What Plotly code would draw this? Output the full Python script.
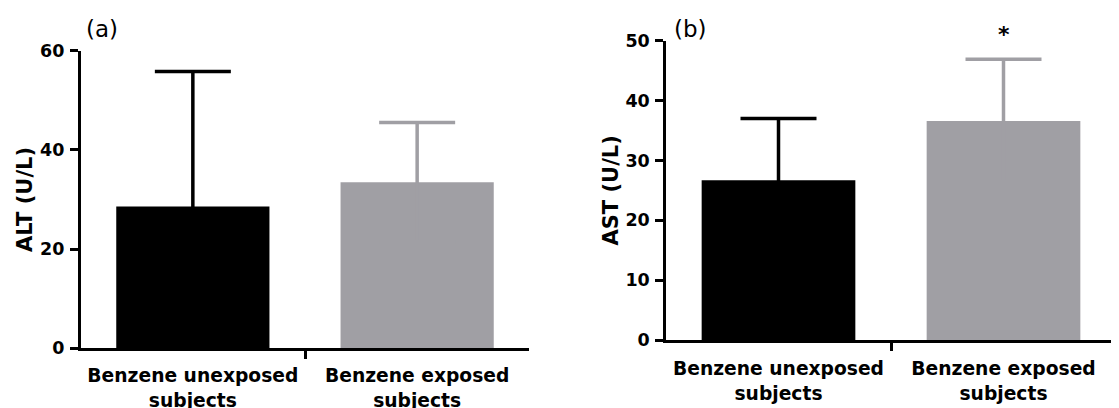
import plotly.graph_objects as go

# ---- data ----
categories = ["Benzene unexposed<br>subjects", "Benzene exposed<br>subjects"]
alt_mean = [28.6, 33.5]
alt_sd = [27.2, 12.0]
ast_mean = [26.7, 36.6]
ast_sd = [10.3, 10.3]
alt_ticks = [0, 20, 40, 60]
ast_ticks = [0, 10, 20, 30, 40, 50]
panel_labels = ["(a)", "(b)"]
y_titles = ["ALT (U/L)", "AST (U/L)"]
signif = ["", "*"]  # marker above exposed group in panel (b)

bar_colors = ["#000000", "#A09FA4"]
FONT = "DejaVu Sans, Verdana, sans-serif"

# page is drawn with the browser's default 8px body margin
OFF = 8
W, H = 1119 - OFF, 408 - OFF
def xp(px):
    return (px - OFF) / W
def yp(py):
    return 1 - (py - OFF) / H

fig = go.Figure()
xpos = list(range(len(categories)))
mid_ticks = [(a + b) / 2 for a, b in zip(xpos[:-1], xpos[1:])]

panels = [(alt_mean, alt_sd), (ast_mean, ast_sd)]
for p, (means, sds) in enumerate(panels):
    xa = "x" if p == 0 else "x2"
    ya = "y" if p == 0 else "y2"
    for i in xpos:
        fig.add_trace(go.Bar(
            x=[xpos[i]], y=[means[i]], width=0.683,
            marker=dict(color=bar_colors[i], line_width=0),
            error_y=dict(type="data", symmetric=True, array=[sds[i]],
                         color=bar_colors[i], thickness=3.5, width=38),
            xaxis=xa, yaxis=ya, showlegend=False, hoverinfo="skip"))

def xaxis_cfg(domain, anchor, standoff):
    return dict(domain=domain, anchor=anchor, range=[-0.5, 1.5], tickmode="array",
                tickvals=xpos, ticktext=categories, ticks="", showline=True,
                linecolor="black", linewidth=2.5, showgrid=False, zeroline=False,
                tickfont=dict(family=FONT, size=18.7, color="black", weight="bold"),
                ticklabelstandoff=standoff,
                minor=dict(tickvals=mid_ticks, ticks="outside", ticklen=8,
                           tickwidth=2.5, tickcolor="black", showgrid=False))

def yaxis_cfg(domain, anchor, rng, tv, title):
    return dict(domain=domain, anchor=anchor, range=rng, tickmode="array", tickvals=tv,
                ticks="outside", ticklen=8, tickwidth=2.5, tickcolor="black",
                showline=True, linecolor="black", linewidth=2.5, showgrid=False,
                zeroline=False, ticklabelstandoff=2,
                tickfont=dict(family=FONT, size=17.5, color="black", weight="bold"),
                title=dict(text=title, standoff=2,
                           font=dict(family=FONT, size=21, color="black", weight="bold")))

fig.update_layout(
    width=W, height=H, margin=dict(l=0, r=0, t=0, b=0, autoexpand=False),
    paper_bgcolor="white", plot_bgcolor="white", barmode="overlay",
    font=dict(family=FONT, color="black"),
    xaxis=xaxis_cfg([xp(80.7), xp(529.3)], "y", 9),
    yaxis=yaxis_cfg([yp(348.3), yp(50.7)], "x", [0, 60], alt_ticks, y_titles[0]),
    xaxis2=xaxis_cfg([xp(666), xp(1116)], "y2", 10),
    yaxis2=yaxis_cfg([yp(340), yp(40.7)], "x2", [0, 50], ast_ticks, y_titles[1]),
)

# panel labels
for p, (xl, yl) in enumerate([(84, 29), (672, 29)]):
    fig.add_annotation(text=panel_labels[p], xref="paper", yref="paper",
                       x=xp(xl), y=yp(yl), xanchor="left", yanchor="middle",
                       showarrow=False, font=dict(family=FONT, size=23, color="black"))

# significance marker
for p, (means, sds) in enumerate(panels):
    for i in xpos:
        if p == 1 and i == 1 and signif[1]:
            fig.add_annotation(text="<b>" + signif[1] + "</b>", xref="x2", yref="y2",
                               x=xpos[i], y=means[i] + sds[i], yanchor="bottom",
                               yshift=10, showarrow=False,
                               font=dict(family=FONT, size=22, color="black"))

fig.write_html("out.html")
